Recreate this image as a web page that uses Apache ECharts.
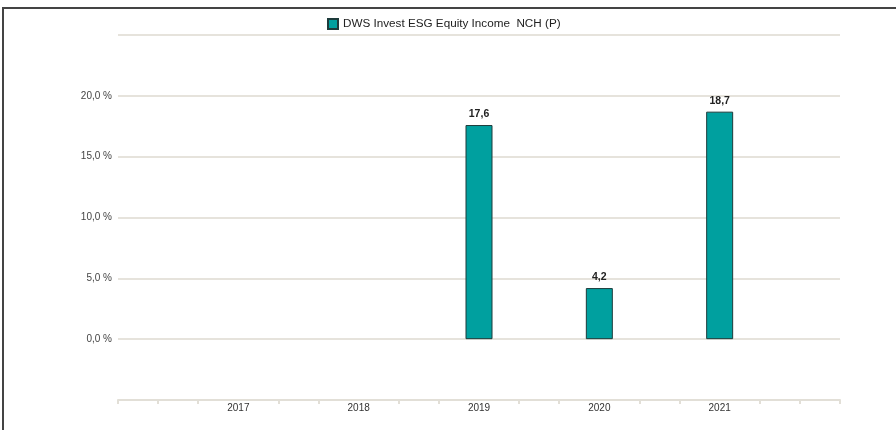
<!DOCTYPE html>
<html>
<head>
<meta charset="utf-8">
<script src="https://cdn.jsdelivr.net/npm/echarts@6/dist/echarts.min.js"></script>
<style>
  html, body { margin: 0; padding: 0; background: #fff; overflow: hidden; }
  #frame { position: absolute; left: 2px; top: 7px; width: 894px; height: 423px;
           border-top: 2px solid #444; border-left: 2px solid #444; box-sizing: border-box; }
  #main { position: absolute; left: 0; top: 0; width: 896px; height: 430px; }
</style>
</head>
<body>
<div id="frame"></div>
<div id="main"></div>
<script>
// Jahre und Wertentwicklung in %
var years = ['2017', '2018', '2019', '2020', '2021'];
var values = [null, null, 17.6, 4.2, 18.7];
var seriesName = 'DWS Invest ESG Equity Income  NCH (P)';
var yTicks = [-5, 0, 5, 10, 15, 20, 25];

// Achse: 3 Schritte je Jahr, Jahr auf jedem dritten Punkt
var slots = [];
var slotData = [];
for (var i = 0; i <= 18; i++) {
    slots.push('');
    slotData.push(null);
}
for (var k = 0; k < years.length; k++) {
    slots[3 * (k + 1)] = years[k];
    slotData[3 * (k + 1)] = values[k];
}

var fmt = function (v) { return v.toFixed(1).replace('.', ','); };

var myChart = echarts.init(document.getElementById('main'));
var option = {
    animation: false,
    legend: {
        data: [seriesName],
        top: 13,
        left: 322,
        itemWidth: 10,
        itemHeight: 10,
        itemGap: 5,
        icon: 'rect',
        textStyle: { fontFamily: 'Liberation Sans, Arial', fontSize: 11.7, color: '#222' }
    },
    grid: { left: 118, right: 56, top: 35, bottom: 30, containLabel: false },
    xAxis: {
        type: 'category',
        data: slots,
        boundaryGap: false,
        axisLine: { onZero: false, lineStyle: { color: '#e2dfd7', width: 2 } },
        axisTick: {
            length: 4,
            lineStyle: { color: '#e2dfd7', width: 2 },
            interval: function (idx, val) { return val === ''; }
        },
        axisLabel: {
            interval: 0,
            margin: 3,
            fontFamily: 'Liberation Sans, Arial',
            fontSize: 10,
            color: '#333'
        },
        splitLine: { show: false }
    },
    yAxis: {
        type: 'value',
        min: yTicks[0],
        max: yTicks[yTicks.length - 1],
        interval: 5,
        axisLine: { show: false },
        axisTick: { show: false },
        axisLabel: {
            margin: 6,
            fontFamily: 'Liberation Sans, Arial',
            fontSize: 10,
            color: '#444',
            formatter: function (v) {
                if (v < 0 || v > 20) return '';
                return fmt(v) + ' %';
            }
        },
        splitLine: { lineStyle: { color: '#e6e3dc', width: 2 } }
    },
    series: [{
        name: seriesName,
        type: 'bar',
        data: slotData,
        barWidth: 27,
        itemStyle: { color: '#00a09f', borderColor: '#1d3b3b', borderWidth: 1 },
        label: {
            show: true,
            position: 'top',
            distance: 5,
            fontFamily: 'Liberation Sans, Arial',
            fontSize: 10.5,
            fontWeight: 'bold',
            color: '#222',
            formatter: function (p) { return fmt(p.value); }
        }
    }]
};
myChart.setOption(option);
</script>
</body>
</html>
